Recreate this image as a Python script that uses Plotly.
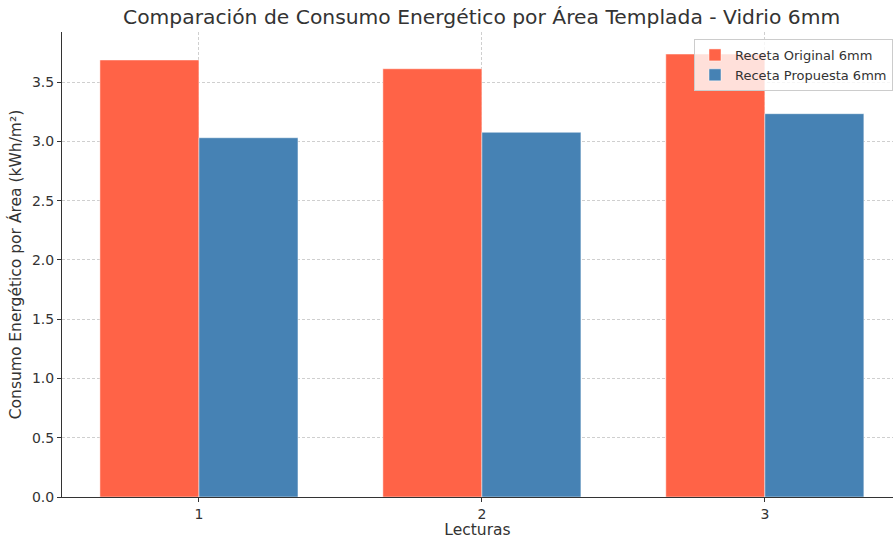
import plotly.graph_objects as go

# Energy consumption per tempered area, 6 mm glass
lecturas = [1, 2, 3]
receta_original = [3.686, 3.612, 3.736]
receta_propuesta = [3.030, 3.076, 3.233]
y_ticks = [0.0, 0.5, 1.0, 1.5, 2.0, 2.5, 3.0, 3.5]

FONT = "DejaVu Sans"
TEXT = "#333333"
GRID = "#cfcfcf"

fig = go.Figure()
fig.add_trace(go.Bar(
    x=lecturas, y=receta_original, name="Receta Original 6mm",
    marker=dict(color="#FF6347", line=dict(color="rgba(255,255,255,0.6)", width=0.8)),
))
fig.add_trace(go.Bar(
    x=lecturas, y=receta_propuesta, name="Receta Propuesta 6mm",
    marker=dict(color="#4682B4", line=dict(color="rgba(255,255,255,0.6)", width=0.8)),
))

fig.update_layout(
    width=893, height=539,
    margin=dict(l=62, r=0, t=32, b=42),
    paper_bgcolor="white", plot_bgcolor="white",
    barmode="group", bargap=0.3, bargroupgap=0,
    font=dict(family=FONT, color=TEXT, size=14),
    title=dict(
        text="Comparación de Consumo Energético por Área Templada - Vidrio 6mm",
        x=0.505, xref="paper", xanchor="center", y=0.968, yanchor="middle",
        font=dict(size=20.3, color=TEXT, family=FONT),
    ),
    legend=dict(
        x=1.0, y=0.985, xanchor="right", yanchor="top",
        bgcolor="rgba(255,255,255,0.8)", bordercolor="#cccccc", borderwidth=1,
        font=dict(size=13, color=TEXT), tracegroupgap=0,
    ),
    xaxis=dict(
        range=[0.516, 3.453], tickvals=lecturas, ticktext=[str(v) for v in lecturas],
        showline=True, linecolor=TEXT, linewidth=1,
        ticks="outside", ticklen=4, tickcolor=TEXT,
        showgrid=True, gridcolor=GRID, griddash="3px,2px", gridwidth=0.8,
        title=dict(text="Lecturas", font=dict(size=15.5), standoff=5),
        zeroline=False,
    ),
    yaxis=dict(
        range=[0, 3.922], tickvals=y_ticks, ticktext=[f"{v:.1f}" for v in y_ticks],
        showline=True, linecolor=TEXT, linewidth=1,
        ticks="outside", ticklen=4, tickcolor=TEXT,
        showgrid=True, gridcolor=GRID, griddash="3px,2px", gridwidth=0.8,
        title=dict(text="Consumo Energético por Área (kWh/m²)", font=dict(size=15.5), standoff=6),
        zeroline=False,
    ),
)

fig.write_html("out.html")
